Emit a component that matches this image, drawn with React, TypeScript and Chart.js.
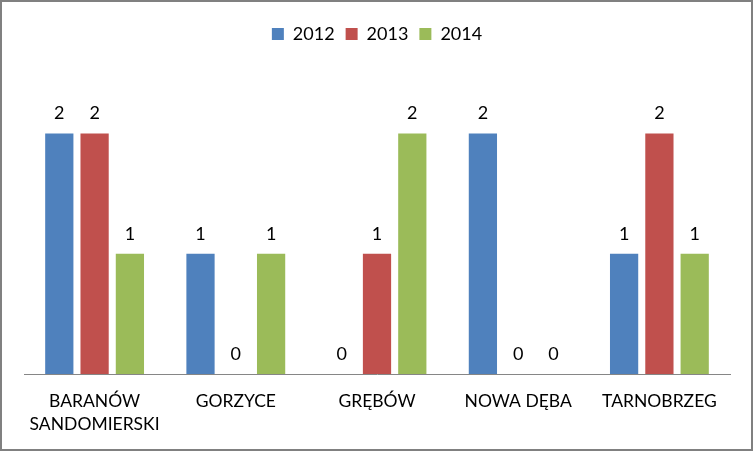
import React, { useEffect, useRef } from "react";
import { Chart, registerables } from "chart.js";

Chart.register(...registerables);

const categories: (string | string[])[] = [
  ["BARANÓW", "SANDOMIERSKI"],
  "GORZYCE",
  "GRĘBÓW",
  "NOWA DĘBA",
  "TARNOBRZEG",
];
const seriesNames = ["2012", "2013", "2014"];
const values2012 = [2, 1, 0, 2, 1];
const values2013 = [2, 0, 1, 0, 2];
const values2014 = [1, 1, 2, 0, 1];
const colors = ["#4F81BD", "#C0504D", "#9BBB59"];

const FONT = "Lato, 'Open Sans', sans-serif";

const valueLabels = {
  id: "valueLabels",
  afterDatasetsDraw(chart: any) {
    const ctx = chart.ctx;
    ctx.save();
    ctx.fillStyle = "#000";
    ctx.font = `18px ${FONT}`;
    ctx.textAlign = "center";
    ctx.textBaseline = "middle";
    chart.data.datasets.forEach((ds: any, di: number) => {
      const meta = chart.getDatasetMeta(di);
      meta.data.forEach((bar: any, i: number) => {
        ctx.fillText(String(ds.data[i]), bar.x, bar.y - 20);
      });
    });
    ctx.restore();
  },
};

const frame = {
  id: "frame",
  afterDraw(chart: any) {
    const ctx = chart.ctx;
    ctx.save();
    ctx.strokeStyle = "#808080";
    ctx.lineWidth = 2;
    ctx.strokeRect(1, 1, chart.width - 2, chart.height - 2);
    ctx.restore();
  },
};

export default function App() {
  const ref = useRef<HTMLCanvasElement>(null);
  useEffect(() => {
    document.body.style.margin = "0";
    const series = [values2012, values2013, values2014];
    const chart = new Chart(ref.current!, {
      type: "bar",
      data: {
        labels: categories,
        datasets: series.map((d, i) => ({
          label: seriesNames[i],
          data: d,
          backgroundColor: colors[i],
          borderWidth: 0,
          categoryPercentage: 0.75,
          barPercentage: 0.8,
        })),
      },
      options: {
        animation: false,
        responsive: false,
        maintainAspectRatio: false,
        layout: { padding: { left: 24, right: 23, top: 14, bottom: 0 } },
        plugins: {
          legend: {
            display: true,
            position: "top",
            labels: {
              boxWidth: 12,
              boxHeight: 12,
              padding: 11,
              color: "#000",
              font: { family: FONT, size: 18 },
            },
          },
          tooltip: { enabled: false },
        },
        scales: {
          x: {
            grid: { display: false },
            border: { display: true, color: "#868686", width: 1 },
            ticks: {
              color: "#000",
              font: { family: FONT, size: 17.5, lineHeight: 1.32 },
              padding: 8,
              maxRotation: 0,
              autoSkip: false,
            },
            afterFit(scale: any) {
              scale.height = 77;
            },
          },
          y: {
            display: false,
            min: 0,
            max: 2.67,
          },
        },
      },
      plugins: [valueLabels, frame],
    });
    return () => chart.destroy();
  }, []);
  return (
    <div style={{ width: 753, height: 451 }}>
      <canvas ref={ref} width={753} height={451} style={{ display: "block" }} />
    </div>
  );
}
